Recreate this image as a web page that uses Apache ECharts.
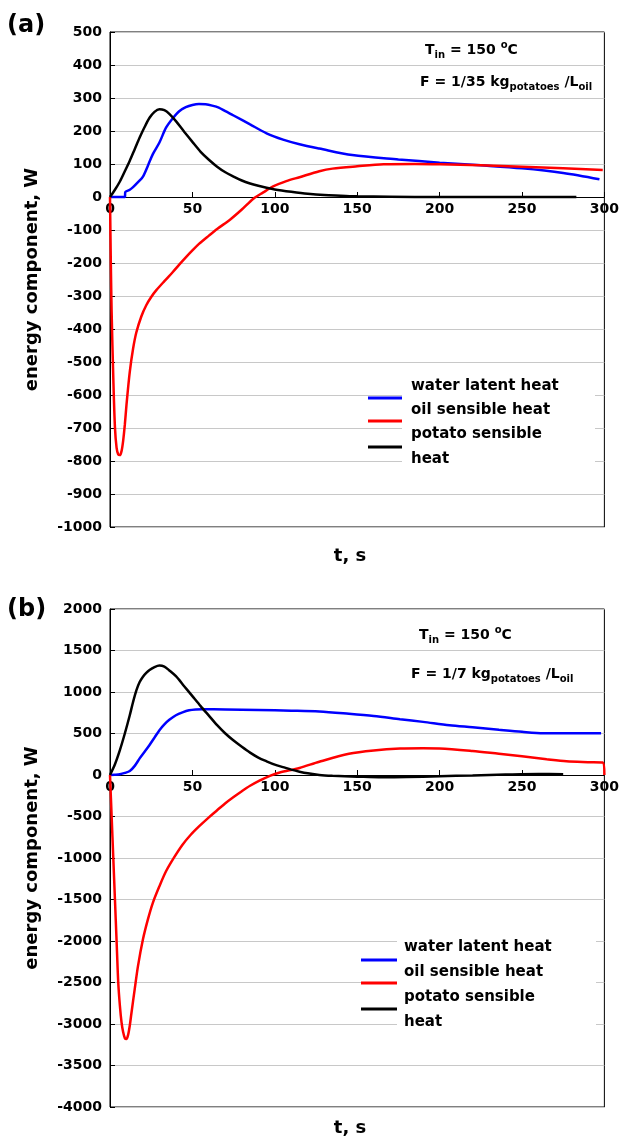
<!DOCTYPE html>
<html><head><meta charset="utf-8">
<script src="https://cdn.jsdelivr.net/npm/echarts@6/dist/echarts.min.js"></script>
<style>html,body{margin:0;padding:0;background:#fff}#c{width:622px;height:1140px}</style>
</head><body><div id="c"></div>
<script>
// ---------- data ----------
const seriesNames = ['water latent heat', 'oil sensible heat', 'potato sensible heat'];
const legendLabels = ['water latent heat', 'oil sensible heat', 'potato sensible\nheat'];
const seriesColors = ['#0000ff', '#ff0000', '#000000'];
const xTickStep = 50;

// panel (a): F = 1/35 kg potatoes / L oil
const tWaterA = [0, 9, 9.3, 12, 14, 17, 20, 23, 26, 30, 34, 38, 42, 46, 50, 54, 58, 62, 66, 70, 75, 85, 95, 105, 115, 127, 147, 175, 200, 225, 250, 275, 297];
const vWaterA = [0, 0, 15, 22, 30, 45, 62, 95, 130, 165, 210, 238, 260, 272, 279, 282, 281, 277, 271, 260, 247, 220, 193, 174, 160, 147, 127, 114, 104, 96, 87, 73, 54];
const tOilA = [0, 0.5, 1, 2, 3, 4, 5, 6, 7, 8, 9, 10, 12, 14, 16, 19, 22, 25, 28, 33, 38, 42, 46, 50, 54, 60, 65, 73, 80, 87, 93, 99, 107, 115, 127, 135, 150, 166, 185, 200, 225, 250, 275, 299];
const vOilA = [0, -200, -350, -548, -698, -760, -780, -782, -770, -738, -690, -630, -530, -460, -410, -362, -328, -303, -283, -255, -228, -205, -183, -162, -142, -117, -97, -68, -38, -5, 14, 32, 48, 60, 78, 86, 93, 99, 100, 99, 96, 92, 87, 82];
const tPotatoA = [0, 3, 6, 9, 12, 15, 18, 21, 24, 27, 30, 33, 36, 40, 45, 50, 55, 60, 65, 70, 75, 80, 85, 90, 95, 100, 110, 120, 130, 140, 150, 170, 200, 240, 283];
const vPotatoA = [0, 22, 47, 78, 110, 145, 180, 212, 240, 258, 266, 263, 252, 230, 198, 167, 137, 113, 92, 75, 62, 50, 41, 34, 28, 23, 16, 10, 6, 4, 2, 1, 0, 0, 0];

// panel (b): F = 1/7 kg potatoes / L oil
const tWaterB = [0, 3, 6, 9, 12, 15, 18, 21, 24, 27, 30, 33, 36, 40, 44, 48, 52, 56, 70, 90, 110, 127, 145, 160, 176, 190, 206, 220, 236, 250, 263, 280, 298];
const vWaterB = [0, 3, 9, 25, 48, 110, 200, 280, 362, 450, 540, 610, 665, 720, 755, 780, 790, 792, 790, 783, 775, 765, 737, 710, 672, 640, 600, 575, 545, 520, 503, 502, 503];
const tOilB = [0, 1, 2, 3, 4, 5, 6, 7, 8, 9, 10, 11, 12, 13, 15, 17, 20, 23, 26, 30, 34, 39, 44, 49, 54, 60, 65, 70, 75, 80, 85, 91, 97, 103, 115, 127, 145, 160, 176, 190, 200, 220, 236, 250, 265, 277, 290, 299, 300];
const vOilB = [0, -500, -1000, -1500, -2000, -2500, -2780, -2980, -3100, -3170, -3180, -3130, -3020, -2870, -2580, -2300, -1980, -1740, -1540, -1340, -1160, -990, -840, -720, -620, -510, -425, -340, -265, -195, -130, -65, -10, 30, 85, 160, 255, 295, 318, 322, 320, 290, 255, 225, 190, 165, 155, 150, 0];
const tPotatoB = [0, 3, 6, 9, 12, 14, 16, 18, 20, 22, 24, 27, 30, 33, 36, 40, 45, 50, 55, 60, 65, 70, 75, 80, 85, 90, 95, 100, 105, 110, 115, 120, 127, 135, 150, 165, 180, 200, 220, 240, 260, 275];
const vPotatoB = [0, 130, 300, 500, 720, 880, 1020, 1120, 1185, 1230, 1265, 1300, 1318, 1305, 1260, 1190, 1070, 950, 830, 715, 600, 500, 415, 340, 270, 210, 165, 125, 95, 65, 40, 20, 0, -10, -20, -28, -25, -15, -5, 5, 12, 10];

// axis ranges
const xMin = 0, xMax = 300;
const yMinA = -1000, yMaxA = 500, yStepA = 100;
const yMinB = -4000, yMaxB = 2000, yStepB = 500;

// ---------- chart ----------
const FF = '"DejaVu Sans", sans-serif';
function pts(t, v) { return t.map((x, i) => [x, v[i]]); }

const gridA = { left: 110, top: 32, width: 495, height: 495 };
const gridB = { left: 110, top: 609, width: 495, height: 498 };
// distance from the plot bottom up to the y = 0 line (so the x axis sits on zero)
function zeroOffset(g, min, max) { return -g.height * (0 - min) / (max - min); }

function xAxisCfg(gi, offset) {
  return {
    gridIndex: gi, type: 'value', min: xMin, max: xMax, interval: xTickStep,
    position: 'bottom', offset: offset,
    axisLine: { onZero: false, lineStyle: { color: '#000', width: 1 } },
    axisTick: { show: true, inside: true, length: 5, lineStyle: { color: '#000' } },
    axisLabel: { margin: 5, color: '#000', fontFamily: FF, fontWeight: 'bold', fontSize: 14, formatter: v => String(v) },
    splitLine: { show: false }
  };
}
function yAxisCfg(gi, min, max, step) {
  return {
    gridIndex: gi, type: 'value', min: min, max: max, interval: step,
    name: 'energy component, W', nameLocation: 'middle', nameGap: 69,
    nameTextStyle: { color: '#000', fontFamily: FF, fontWeight: 'bold', fontSize: 18 },
    axisLine: { show: true, onZero: false, lineStyle: { color: '#000', width: 1 } },
    axisTick: { show: true, inside: true, length: 5, lineStyle: { color: '#000' } },
    axisLabel: { margin: 8, color: '#000', fontFamily: FF, fontWeight: 'bold', fontSize: 14, formatter: v => String(v) },
    splitLine: { show: true, lineStyle: { color: '#c8c8c8', width: 1 } }
  };
}
function lineSeries(gi, idx, t, v) {
  return {
    type: 'line', name: seriesNames[idx], xAxisIndex: gi, yAxisIndex: gi,
    data: pts(t, v), showSymbol: false, smooth: 0.3,
    lineStyle: { color: seriesColors[idx], width: 2.5 }, itemStyle: { color: seriesColors[idx] },
    z: 3 + idx, animation: false
  };
}

function legendGraphics(lineX1, lineX2, lineYs, textX, textYs, box) {
  const g = [{ type: 'rect', z: 50, shape: box, style: { fill: '#fff' } }];
  for (let i = 0; i < 3; i++) {
    g.push({ type: 'line', z: 51, shape: { x1: lineX1, y1: lineYs[i], x2: lineX2, y2: lineYs[i] },
      style: { stroke: seriesColors[i], lineWidth: 3 } });
    g.push({ type: 'text', z: 51, x: textX, y: textYs[i],
      style: { text: legendLabels[i], fill: '#000', font: 'bold 15px ' + FF, lineHeight: 25,
        align: 'left', verticalAlign: 'top' } });
  }
  return g;
}

const richAnno = {
  m: { fontFamily: FF, fontWeight: 'bold', fontSize: 14, lineHeight: 20, verticalAlign: 'middle', fill: '#000' },
  s: { fontFamily: FF, fontWeight: 'bold', fontSize: 10, lineHeight: 10, verticalAlign: 'bottom', fill: '#000' },
  p: { fontFamily: FF, fontWeight: 'bold', fontSize: 10, lineHeight: 10, verticalAlign: 'top', fill: '#000' }
};
function anno(x, y, text) {
  return { type: 'text', z: 60, x: x, y: y, style: { text: text, rich: richAnno, align: 'left', verticalAlign: 'middle', fill: '#000' } };
}
function plain(x, y, text, size, align) {
  return { type: 'text', z: 60, x: x, y: y, style: { text: text, fill: '#000', font: 'bold ' + size + 'px ' + FF, align: align || 'center', verticalAlign: 'middle' } };
}

const graphics = [].concat(
  [plain(7, 26, '(a)', 24, 'left'), plain(7, 610, '(b)', 24, 'left'),
   plain(350, 556, 't, s', 18), plain(350, 1128, 't, s', 18),
   anno(425, 50, '{m|T}{s|in}{m| = 150 }{p|o}{m|C}'),
   anno(420, 82, '{m|F = 1/35 kg}{s|potatoes}{m| /L}{s|oil}'),
   anno(419, 635, '{m|T}{s|in}{m| = 150 }{p|o}{m|C}'),
   anno(411, 674, '{m|F = 1/7 kg}{s|potatoes}{m| /L}{s|oil}')],
  legendGraphics(368, 402, [398, 421, 447], 411, [374, 398, 422], { x: 402, y: 372, width: 193, height: 98 }),
  legendGraphics(361, 397, [960, 983, 1009], 404, [935, 960, 985], { x: 397, y: 934, width: 199, height: 100 })
);

const chart = echarts.init(document.getElementById('c'), null, { renderer: 'canvas' });
chart.setOption({
  animation: false,
  backgroundColor: '#fff',
  grid: [
    Object.assign({ show: true, borderColor: '#000', borderWidth: 1, backgroundColor: 'transparent' }, gridA),
    Object.assign({ show: true, borderColor: '#000', borderWidth: 1, backgroundColor: 'transparent' }, gridB)
  ],
  xAxis: [xAxisCfg(0, zeroOffset(gridA, yMinA, yMaxA)), xAxisCfg(1, zeroOffset(gridB, yMinB, yMaxB))],
  yAxis: [yAxisCfg(0, yMinA, yMaxA, yStepA), yAxisCfg(1, yMinB, yMaxB, yStepB)],
  series: [
    lineSeries(0, 0, tWaterA, vWaterA), lineSeries(0, 1, tOilA, vOilA), lineSeries(0, 2, tPotatoA, vPotatoA),
    lineSeries(1, 0, tWaterB, vWaterB), lineSeries(1, 1, tOilB, vOilB), lineSeries(1, 2, tPotatoB, vPotatoB)
  ],
  graphic: graphics
});
</script></body></html>
